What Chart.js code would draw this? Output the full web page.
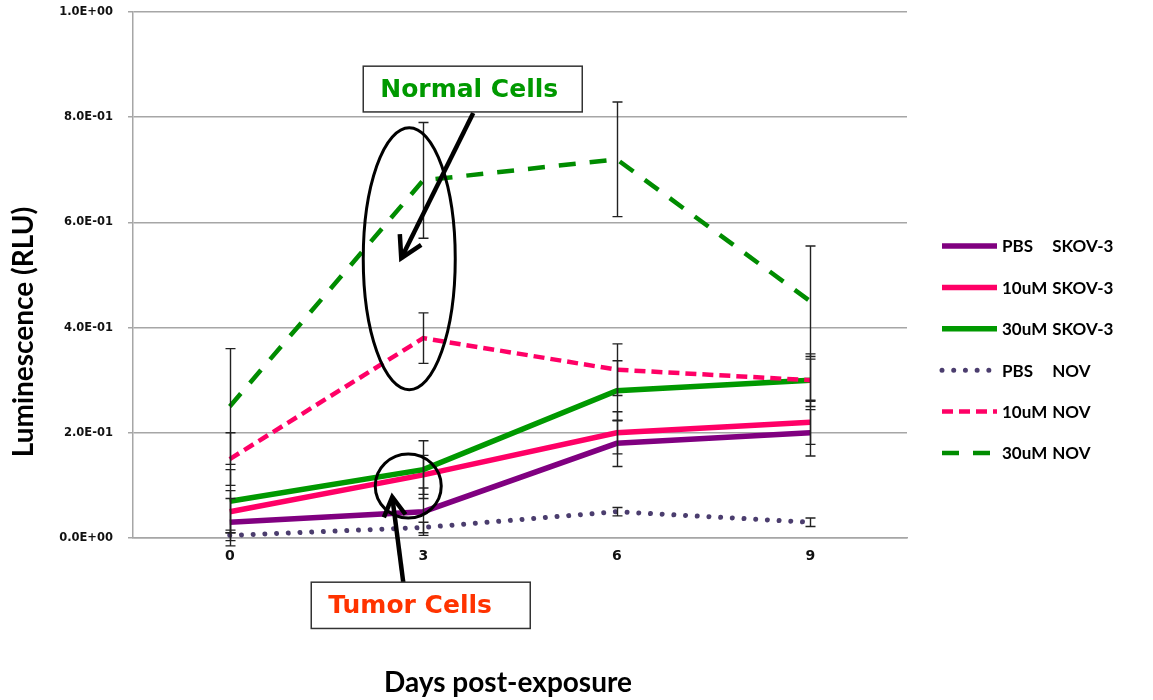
<!DOCTYPE html>
<html>
<head>
<meta charset="utf-8">
<title>Luminescence – days post-exposure</title>
<script src="https://cdn.jsdelivr.net/npm/chart.js@4.4.1/dist/chart.umd.min.js"></script>
<style>
  html, body { margin: 0; padding: 0; background: #ffffff; }
  #chart { display: block; }
</style>
</head>
<body>
<canvas id="chart" width="1153" height="700"></canvas>
<script>
/* global Chart */

// ---- data ----
const days = ['0', '3', '6', '9'];
const yTicks = [0, 0.2, 0.4, 0.6, 0.8, 1.0];

const seriesNames = [
  'PBS SKOV-3', '10uM SKOV-3', '30uM SKOV-3',
  'PBS NOV', '10uM NOV', '30uM NOV',
];

const pbsSkov      = [0.03, 0.05, 0.18, 0.20];
const pbsSkovErr   = [0.045, 0.045, 0.044, 0.044];
const uM10Skov     = [0.05, 0.12, 0.20, 0.22];
const uM10SkovErr  = [0.04, 0.037, 0.04, 0.042];
const uM30Skov     = [0.07, 0.13, 0.28, 0.30];
const uM30SkovErr  = [0.06, 0.055, 0.057, 0.04];
const pbsNov       = [0.005, 0.02, 0.05, 0.03];
const pbsNovErr    = [0.01, 0.01, 0.008, 0.008];
const uM10Nov      = [0.15, 0.38, 0.32, 0.30];
const uM10NovErr   = [0.05, 0.048, 0.049, 0.05];
const uM30Nov      = [0.25, 0.68, 0.72, 0.45];
const uM30NovErr   = [0.11, 0.11, 0.109, 0.105];

// ---- styles ----
const PURPLE = '#800080';
const PINK   = '#ff0066';
const GREEN  = '#009900';
const DOTS   = '#4b3d6e';
const GRID   = '#a6a6a6';

const TICK_FONT  = { family: "'DejaVu Sans', sans-serif", size: 11.5, weight: 'bold' };
const XTICK_FONT = { family: "'DejaVu Sans', sans-serif", size: 14, weight: 'bold' };
const TITLE_FONT = "bold 28px Lato, 'Liberation Sans', sans-serif";
const LEGEND_FONT = "bold 17px Lato, 'Liberation Sans', sans-serif";
const NOTE_FONT  = "bold 25px 'DejaVu Sans', sans-serif";

// 8.0E-01 style
function sci(v) {
  const parts = Number(v).toExponential(1).split('e');
  const n = parseInt(parts[1], 10);
  return parts[0] + 'E' + (n < 0 ? '-' : '+') + String(Math.abs(n)).padStart(2, '0');
}

function series(i, data, errors, color, width, dash, cap) {
  return {
    label: seriesNames[i],
    data: data,
    errors: errors,
    borderColor: color,
    backgroundColor: color,
    borderWidth: width,
    borderDash: dash,
    borderCapStyle: cap,
    pointRadius: 0,
    tension: 0,
    fill: false,
    order: seriesNames.length - i,   // later series on top, like the original
  };
}

const datasets = [
  series(0, pbsSkov,  pbsSkovErr,  PURPLE, 5.5, [], 'butt'),
  series(1, uM10Skov, uM10SkovErr, PINK,   5.5, [], 'butt'),
  series(2, uM30Skov, uM30SkovErr, GREEN,  5.5, [], 'butt'),
  series(3, pbsNov,   pbsNovErr,   DOTS,   5,   [0.01, 11.7], 'round'),
  series(4, uM10Nov,  uM10NovErr,  PINK,   4.5, [11, 6], 'butt'),
  series(5, uM30Nov,  uM30NovErr,  '#008c00', 4.5, [17, 14], 'butt'),
];

// vertical error bars with caps
const errorBars = {
  id: 'errorBars',
  afterDatasetsDraw(chart) {
    const { ctx, scales: { x, y } } = chart;
    ctx.save();
    ctx.strokeStyle = '#222222';
    ctx.lineWidth = 1.4;
    ctx.setLineDash([]);
    chart.data.datasets.forEach(ds => {
      ds.data.forEach((v, i) => {
        const e = ds.errors[i];
        const px = Math.round(x.getPixelForValue(i)) + 0.5;
        const top = y.getPixelForValue(v + e);
        const bot = y.getPixelForValue(v - e);
        ctx.beginPath();
        ctx.moveTo(px, top); ctx.lineTo(px, bot);
        ctx.moveTo(px - 5, top); ctx.lineTo(px + 5, top);
        ctx.moveTo(px - 5, bot); ctx.lineTo(px + 5, bot);
        ctx.stroke();
      });
    });
    ctx.restore();
  },
};

function arrow(ctx, x0, y0, x1, y1, head) {
  ctx.beginPath();
  ctx.moveTo(x0, y0);
  ctx.lineTo(x1, y1);
  ctx.stroke();
  const a = Math.atan2(y0 - y1, x0 - x1);
  ctx.beginPath();
  ctx.moveTo(x1 + head * Math.cos(a - 0.52), y1 + head * Math.sin(a - 0.52));
  ctx.lineTo(x1, y1);
  ctx.lineTo(x1 + head * Math.cos(a + 0.52), y1 + head * Math.sin(a + 0.52));
  ctx.stroke();
}

function noteBox(ctx, left, top, right, bottom, text, color) {
  ctx.fillStyle = '#ffffff';
  ctx.fillRect(left, top, right - left, bottom - top);
  ctx.strokeStyle = '#333333';
  ctx.lineWidth = 1.5;
  ctx.strokeRect(left, top, right - left, bottom - top);
  ctx.font = NOTE_FONT;
  ctx.fillStyle = color;
  ctx.textAlign = 'left';
  ctx.textBaseline = 'middle';
  ctx.fillText(text, left + 17, (top + bottom) / 2 + 1);
}

// "Normal Cells" / "Tumor Cells" call-outs, anchored on the day-3 column
const callouts = {
  id: 'callouts',
  afterDraw(chart) {
    const { ctx, scales: { x, y } } = chart;
    const c3 = x.getPixelForValue(1);
    ctx.save();
    ctx.strokeStyle = '#000000';
    ctx.lineJoin = 'miter';
    ctx.setLineDash([]);

    // big ellipse around the NOV points
    ctx.lineWidth = 3;
    const cy = y.getPixelForValue(0.531);
    ctx.beginPath();
    ctx.ellipse(c3 - 14, cy, 46, cy - y.getPixelForValue(0.78), 0, 0, Math.PI * 2);
    ctx.stroke();

    // small circle around the SKOV-3 points
    ctx.beginPath();
    ctx.ellipse(c3 - 15, y.getPixelForValue(0.099), 33, 32, 0, 0, Math.PI * 2);
    ctx.stroke();

    ctx.lineWidth = 4.5;
    arrow(ctx, c3 + 50, y.getPixelForValue(0.808), c3 - 22, y.getPixelForValue(0.532), 24);
    arrow(ctx, c3 - 20, y.getPixelForValue(-0.084), c3 - 31, y.getPixelForValue(0.078), 22);

    noteBox(ctx, c3 - 60, y.getPixelForValue(0.897), c3 + 159, y.getPixelForValue(0.81),
      'Normal Cells', '#009900');
    noteBox(ctx, c3 - 112, y.getPixelForValue(-0.084), c3 + 107, y.getPixelForValue(-0.172),
      'Tumor Cells', '#ff3300');

    ctx.restore();
  },
};

// axis titles placed like the original, and the two-column legend on the right
const extras = {
  id: 'extras',
  afterDraw(chart) {
    const { ctx, chartArea } = chart;
    ctx.save();
    ctx.fillStyle = '#000000';
    ctx.font = TITLE_FONT;
    ctx.textAlign = 'center';
    ctx.textBaseline = 'middle';
    ctx.fillText('Days post-exposure', 508, 683);
    ctx.translate(24, 332);
    ctx.rotate(-Math.PI / 2);
    ctx.fillText('Luminescence (RLU)', 0, 0);
    ctx.restore();

    ctx.save();
    ctx.font = LEGEND_FONT;
    const x0 = chartArea.right + 33;
    const tx = x0 + 62;
    const colGap = ctx.measureText('10uM').width + 5;
    chart.data.datasets.forEach((ds, i) => {
      const yy = 246 + i * 41.4;
      ctx.strokeStyle = ds.borderColor;
      ctx.lineWidth = ds.borderWidth;
      ctx.lineCap = ds.borderCapStyle;
      ctx.setLineDash(ds.borderDash);
      ctx.beginPath();
      ctx.moveTo(x0 + 2, yy);
      ctx.lineTo(x0 + 57, yy);
      ctx.stroke();
      const sp = ds.label.indexOf(' ');
      ctx.fillStyle = '#000000';
      ctx.textAlign = 'left';
      ctx.textBaseline = 'middle';
      ctx.fillText(ds.label.slice(0, sp), tx, yy + 1);
      ctx.fillText(ds.label.slice(sp + 1), tx + colGap, yy + 1);
    });
    ctx.restore();
  },
};

const chart = new Chart(document.getElementById('chart'), {
  type: 'line',
  data: { labels: days, datasets: datasets },
  plugins: [errorBars, callouts, extras],
  options: {
    responsive: false,
    animation: false,
    layout: { padding: { top: 12, right: 246, left: 0, bottom: 0 } },
    plugins: {
      legend: { display: false },
      tooltip: { enabled: false },
    },
    scales: {
      x: {
        type: 'category',
        offset: true,
        grid: { display: false },
        border: { display: true, color: GRID, width: 1.5 },
        ticks: { font: XTICK_FONT, color: '#111111', padding: 2, maxRotation: 0 },
        afterFit: s => { s.height = 162; },
      },
      y: {
        min: 0,
        max: 1,
        afterBuildTicks: s => { s.ticks = yTicks.map(v => ({ value: v })); },
        ticks: {
          font: TICK_FONT,
          color: '#111111',
          padding: 15,
          callback: v => sci(v),
        },
        grid: { color: GRID, lineWidth: 1.5, tickLength: 5, tickColor: GRID },
        border: { display: true, color: GRID, width: 1.5 },
        // keep the plot box fixed: 133px wide axis, no extra label padding
        afterFit: s => { s.width = 133; s.paddingTop = 0; s.paddingBottom = 0; },
      },
    },
  },
});
</script>
</body>
</html>
